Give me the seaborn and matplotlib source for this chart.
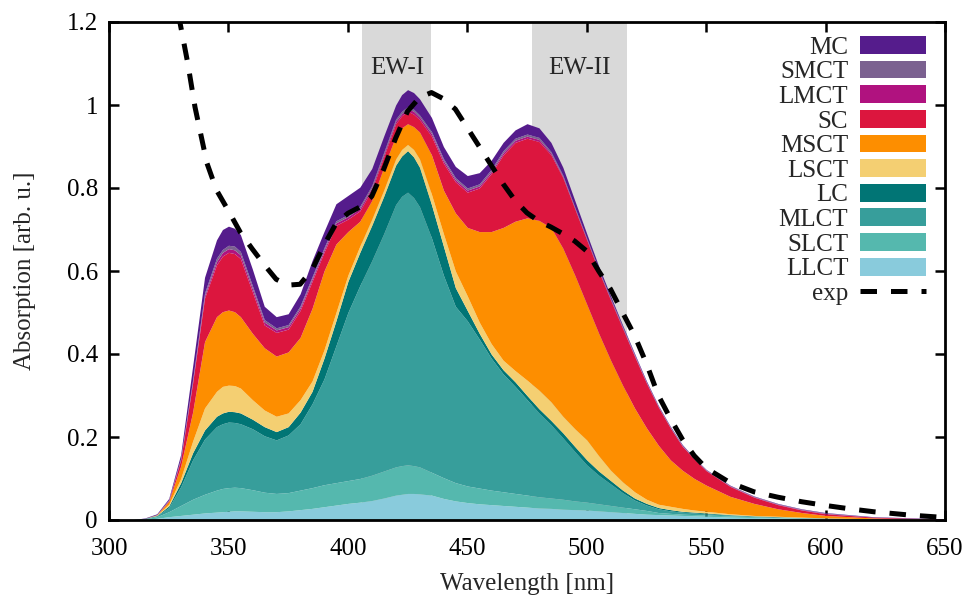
import numpy as np
import matplotlib
matplotlib.use("Agg")
import matplotlib.pyplot as plt
import seaborn as sns
from matplotlib.patches import Patch
from matplotlib.lines import Line2D

# ---------------- data ----------------
wavelength = [300, 310, 315, 320, 325, 330, 335, 340, 345, 347.5, 350, 352.5,
              355, 360, 365, 370, 375, 380, 385, 390, 395, 400,
              405, 410, 415, 420, 422.5, 425, 427.5, 430, 435, 440, 445, 450,
              455, 460, 465, 470, 475, 480, 485, 490, 495, 500,
              505, 510, 515, 520, 525, 530, 535, 540, 545, 550,
              560, 570, 580, 590, 600, 620, 650]

# upper edge of each stacked band (cumulative absorption), bottom to top
top_LLCT = [0, 0.001, 0.002, 0.004, 0.008, 0.011, 0.014, 0.017, 0.019, 0.020, 0.021, 0.022,
            0.022, 0.021, 0.020, 0.020, 0.022, 0.025, 0.028, 0.032, 0.036, 0.040,
            0.043, 0.047, 0.053, 0.060, 0.062, 0.064, 0.064, 0.063, 0.060, 0.052, 0.046, 0.042,
            0.039, 0.037, 0.035, 0.033, 0.031, 0.029, 0.028, 0.026, 0.025, 0.024,
            0.022, 0.020, 0.018, 0.016, 0.014, 0.013, 0.012, 0.011, 0.010, 0.009,
            0.007, 0.006, 0.005, 0.004, 0.003, 0.002, 0.001]
top_SLCT = [0, 0.001, 0.003, 0.008, 0.020, 0.035, 0.050, 0.062, 0.072, 0.076, 0.078, 0.079,
            0.078, 0.073, 0.067, 0.064, 0.066, 0.072, 0.078, 0.085, 0.090, 0.095,
            0.100, 0.108, 0.118, 0.128, 0.131, 0.133, 0.131, 0.128, 0.115, 0.102, 0.090, 0.082,
            0.077, 0.072, 0.068, 0.064, 0.060, 0.056, 0.053, 0.050, 0.046, 0.043,
            0.039, 0.035, 0.031, 0.027, 0.023, 0.018, 0.016, 0.014, 0.013, 0.012,
            0.010, 0.008, 0.006, 0.005, 0.004, 0.003, 0.001]
top_MLCT = [0, 0.001, 0.004, 0.010, 0.030, 0.080, 0.145, 0.195, 0.225, 0.232, 0.236, 0.235,
            0.232, 0.220, 0.203, 0.193, 0.205, 0.232, 0.280, 0.340, 0.420, 0.500,
            0.565, 0.625, 0.690, 0.760, 0.780, 0.790, 0.777, 0.755, 0.680, 0.590, 0.515, 0.480,
            0.436, 0.390, 0.352, 0.322, 0.290, 0.258, 0.230, 0.198, 0.165, 0.133,
            0.108, 0.087, 0.066, 0.048, 0.036, 0.027, 0.022, 0.019, 0.017, 0.015,
            0.012, 0.009, 0.007, 0.006, 0.005, 0.003, 0.001]
top_LC = [0, 0.001, 0.004, 0.011, 0.034, 0.090, 0.162, 0.217, 0.250, 0.258, 0.262, 0.261,
          0.258, 0.243, 0.225, 0.213, 0.225, 0.260, 0.310, 0.390, 0.480, 0.575,
          0.645, 0.710, 0.780, 0.855, 0.877, 0.890, 0.875, 0.850, 0.760, 0.660, 0.560, 0.505,
          0.450, 0.400, 0.362, 0.333, 0.300, 0.268, 0.240, 0.210, 0.177, 0.145,
          0.118, 0.095, 0.072, 0.053, 0.040, 0.030, 0.025, 0.021, 0.019, 0.017,
          0.013, 0.010, 0.008, 0.006, 0.005, 0.003, 0.001]
top_LSCT = [0, 0.001, 0.004, 0.012, 0.038, 0.100, 0.190, 0.270, 0.310, 0.322, 0.325, 0.324,
            0.318, 0.290, 0.265, 0.250, 0.258, 0.290, 0.335, 0.410, 0.500, 0.590,
            0.660, 0.725, 0.795, 0.870, 0.893, 0.905, 0.893, 0.870, 0.785, 0.690, 0.600, 0.540,
            0.477, 0.425, 0.385, 0.360, 0.337, 0.313, 0.285, 0.250, 0.220, 0.193,
            0.155, 0.120, 0.092, 0.068, 0.050, 0.038, 0.033, 0.028, 0.024, 0.021,
            0.015, 0.011, 0.009, 0.007, 0.005, 0.003, 0.001]
top_MSCT = [0, 0.001, 0.004, 0.013, 0.045, 0.130, 0.260, 0.430, 0.490, 0.502, 0.506, 0.502,
            0.490, 0.450, 0.415, 0.395, 0.405, 0.440, 0.510, 0.600, 0.665, 0.695,
            0.720, 0.770, 0.850, 0.925, 0.945, 0.955, 0.948, 0.935, 0.880, 0.795, 0.740, 0.705,
            0.695, 0.695, 0.705, 0.720, 0.728, 0.722, 0.705, 0.655, 0.590, 0.520,
            0.450, 0.385, 0.325, 0.270, 0.222, 0.180, 0.145, 0.120, 0.100, 0.084,
            0.057, 0.040, 0.027, 0.018, 0.011, 0.005, 0.001]
top_SC = [0, 0.001, 0.004, 0.013, 0.047, 0.145, 0.330, 0.535, 0.615, 0.636, 0.645, 0.642,
          0.630, 0.550, 0.470, 0.452, 0.460, 0.505, 0.575, 0.645, 0.710, 0.725,
          0.745, 0.795, 0.875, 0.955, 0.974, 0.985, 0.978, 0.965, 0.925, 0.860, 0.815, 0.790,
          0.800, 0.835, 0.880, 0.910, 0.920, 0.912, 0.880, 0.825, 0.750, 0.675,
          0.600, 0.530, 0.462, 0.395, 0.330, 0.272, 0.222, 0.178, 0.147, 0.119,
          0.081, 0.055, 0.037, 0.024, 0.015, 0.007, 0.002]
top_LMCT = [0, 0.001, 0.004, 0.013, 0.048, 0.147, 0.334, 0.541, 0.623, 0.645, 0.654, 0.651,
            0.639, 0.558, 0.477, 0.458, 0.466, 0.511, 0.581, 0.651, 0.716, 0.731,
            0.751, 0.801, 0.881, 0.961, 0.979, 0.991, 0.985, 0.971, 0.931, 0.866, 0.820, 0.795,
            0.805, 0.840, 0.885, 0.915, 0.925, 0.917, 0.884, 0.828, 0.752, 0.677,
            0.602, 0.532, 0.464, 0.397, 0.331, 0.273, 0.223, 0.179, 0.148, 0.120,
            0.082, 0.056, 0.038, 0.025, 0.016, 0.007, 0.002]
top_SMCT = [0, 0.001, 0.004, 0.013, 0.049, 0.149, 0.338, 0.547, 0.631, 0.652, 0.662, 0.660,
            0.647, 0.565, 0.483, 0.463, 0.471, 0.516, 0.586, 0.656, 0.721, 0.736,
            0.756, 0.806, 0.886, 0.966, 0.985, 0.996, 0.990, 0.976, 0.936, 0.871, 0.825, 0.800,
            0.810, 0.845, 0.890, 0.920, 0.930, 0.922, 0.888, 0.831, 0.754, 0.679,
            0.604, 0.534, 0.466, 0.399, 0.332, 0.274, 0.224, 0.180, 0.149, 0.121,
            0.083, 0.057, 0.039, 0.026, 0.017, 0.007, 0.002]
top_MC = [0, 0.001, 0.005, 0.015, 0.052, 0.158, 0.370, 0.585, 0.675, 0.700, 0.708, 0.703,
          0.688, 0.605, 0.515, 0.490, 0.497, 0.545, 0.625, 0.695, 0.762, 0.782,
          0.802, 0.847, 0.925, 1.000, 1.025, 1.037, 1.030, 1.015, 0.970, 0.900, 0.852, 0.830,
          0.837, 0.867, 0.910, 0.940, 0.955, 0.945, 0.910, 0.850, 0.770, 0.690,
          0.612, 0.540, 0.470, 0.402, 0.335, 0.276, 0.226, 0.182, 0.150, 0.122,
          0.084, 0.058, 0.040, 0.027, 0.018, 0.008, 0.003]

exp_wavelength = [329, 333, 336, 341, 345, 350, 355, 360, 365, 370, 375, 380,
                  385, 390, 395, 400, 405, 410, 415, 420, 425, 430, 435, 440,
                  445, 450, 455, 460, 465, 470, 475, 480, 485, 490, 495, 500,
                  505, 510, 515, 520, 525, 530, 535, 540, 545, 550, 560, 570,
                  580, 590, 600, 610, 620, 635, 650]
exp_absorption = [1.22, 1.10, 0.995, 0.86, 0.795, 0.745, 0.693, 0.653, 0.615, 0.58,
                  0.566, 0.568, 0.603, 0.662, 0.714, 0.739, 0.754, 0.78, 0.845, 0.92,
                  0.985, 1.018, 1.03, 1.015, 0.99, 0.945, 0.90, 0.855, 0.81, 0.77,
                  0.74, 0.72, 0.706, 0.69, 0.672, 0.648, 0.60, 0.556, 0.50, 0.445,
                  0.377, 0.30, 0.245, 0.195, 0.155, 0.125, 0.09, 0.068, 0.055, 0.044,
                  0.035, 0.027, 0.02, 0.012, 0.006]

band_names = ["LLCT", "SLCT", "MLCT", "LC", "LSCT", "MSCT", "SC", "LMCT", "SMCT", "MC"]
band_tops = [top_LLCT, top_SLCT, top_MLCT, top_LC, top_LSCT,
             top_MSCT, top_SC, top_LMCT, top_SMCT, top_MC]
band_colors = ["#89cbdc", "#55b8ae", "#379e9b", "#017575", "#f4cf72",
               "#fd8e00", "#dc163e", "#b0127f", "#7b6190", "#551c8c"]

ew_regions = [(406, 435, "EW-I"), (477, 517, "EW-II")]

# ---------------- plot ----------------
sns.set_theme(style="ticks")
plt.rcParams["font.family"] = ["Liberation Serif", "DejaVu Serif"]
FS = 18
DASH = (3.3, 2.8)

fig = plt.figure(figsize=(9.69, 5.96), dpi=100)
ax = fig.add_axes([109 / 969, 76 / 596, 836 / 969, 498 / 596])

for x0, x1, name in ew_regions:
    ax.axvspan(x0, x1, color="#d9d9d9", lw=0, zorder=0)
    ax.text((x0 + x1) / 2, 1.088, name, ha="center", va="center",
            fontsize=FS, zorder=1)

wl = np.array(wavelength, dtype=float)
lower = np.zeros_like(wl)
for name, top, col in zip(band_names, band_tops, band_colors):
    top = np.array(top, dtype=float)
    ax.fill_between(wl, lower, top, color=col, lw=0, zorder=2)
    lower = top

sns.lineplot(x=exp_wavelength, y=exp_absorption, ax=ax, color="black",
             lw=3.6, zorder=5)
exp_line = ax.lines[-1]
exp_line.set_dashes(DASH)
exp_line.set_dash_capstyle("butt")

ax.set_xlim(300, 650)
ax.set_ylim(0, 1.2)
ax.set_xticks(np.arange(300, 651, 50))
ax.set_yticks([0, 0.2, 0.4, 0.6, 0.8, 1.0, 1.2])
ax.set_yticklabels(["0", "0.2", "0.4", "0.6", "0.8", "1", "1.2"])
ax.tick_params(direction="in", length=7, width=1.8, top=True, right=True,
               labelsize=FS, colors="black")
ax.tick_params(axis="x", pad=13)
ax.tick_params(axis="y", pad=8)
for sp in ax.spines.values():
    sp.set_linewidth(2.0)
    sp.set_color("black")
    sp.set_zorder(10)

ax.set_xlabel("Wavelength [nm]", fontsize=FS, labelpad=9)
ax.set_ylabel("Absorption [arb. u.]", fontsize=FS, labelpad=22)

handles = [Patch(facecolor=c, edgecolor="none", label=n)
           for n, c in zip(band_names[::-1], band_colors[::-1])]
handles.append(Line2D([0], [0], color="black", lw=3.6, dashes=DASH,
                      dash_capstyle="butt", label="exp"))
leg = ax.legend(handles=handles, loc="upper right",
                bbox_to_anchor=(0.977, 0.972), frameon=False,
                fontsize=FS, markerfirst=False, handlelength=2.65,
                handleheight=0.72, labelspacing=0.08, handletextpad=0.45,
                borderaxespad=0.0, borderpad=0.0)
leg.set_zorder(12)

fig.savefig("out.png", dpi=100)
